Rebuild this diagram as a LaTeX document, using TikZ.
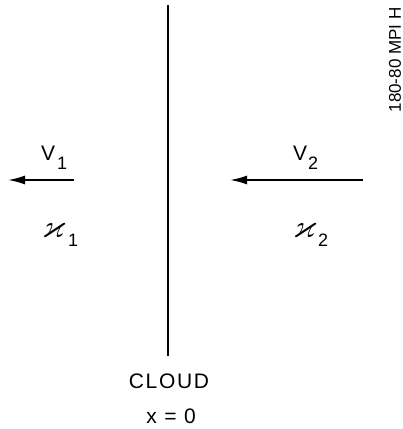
\documentclass[tikz,border=0pt]{standalone}
\usepackage{amssymb}
\usepackage{fontspec}
\setmainfont{Liberation Sans}
\usepackage{tikz}
\usetikzlibrary{arrows.meta,positioning}

\newcommand{\lowdigit}[1]{\raisebox{-9pt}{\fontsize{18}{20}\selectfont #1}}
\newcommand{\opac}{\scalebox{1.55}{$\varkappa$}}

\begin{document}
\begin{tikzpicture}[x=1pt,y=-1pt,
    flow/.style={line width=1.8pt,-{Latex[length=17pt,width=9pt]}},
    lbl/.style={font=\fontsize{21}{24}\selectfont,inner sep=0pt,anchor=base west},
    spaced/.style={font=\fontsize{21}{24}\selectfont\addfontfeature{LetterSpace=8},inner sep=0pt,anchor=base}]
  \useasboundingbox (0,0) rectangle (403,429);
  % cloud sheet
  \coordinate (cloudtop) at (168,5);
  \coordinate (cloudbot) at (168,356);
  \draw[line width=1.8pt] (cloudtop) -- (cloudbot);
  % velocities
  \coordinate (v1start) at (74,180);
  \coordinate (v1end) at (8,180);
  \coordinate (v2start) at (363,180);
  \coordinate (v2end) at (230,180);
  \draw[flow] (v1start) -- (v1end);
  \draw[flow] (v2start) -- (v2end);
  \node[lbl] (vone) at (41,160) {V\hspace{2pt}\lowdigit{1}};
  \node[lbl] (vtwo) at (293,160) {V\hspace{1pt}\lowdigit{2}};
  % opacities
  \node[lbl] (kone) at (42,237) {\opac\hspace{3pt}\lowdigit{1}};
  \node[lbl] (ktwo) at (293,237) {\opac\hspace{2pt}\lowdigit{2}};
  % labels
  \node[spaced] (cloud) at (169,388) {CLOUD};
  \node[spaced] (xeq) at (171,423) {x = 0};
  \node[font=\fontsize{17}{20}\selectfont,rotate=90,inner sep=0pt] (tag) at (395,60) {180-80 MPI H};
\end{tikzpicture}
\end{document}
